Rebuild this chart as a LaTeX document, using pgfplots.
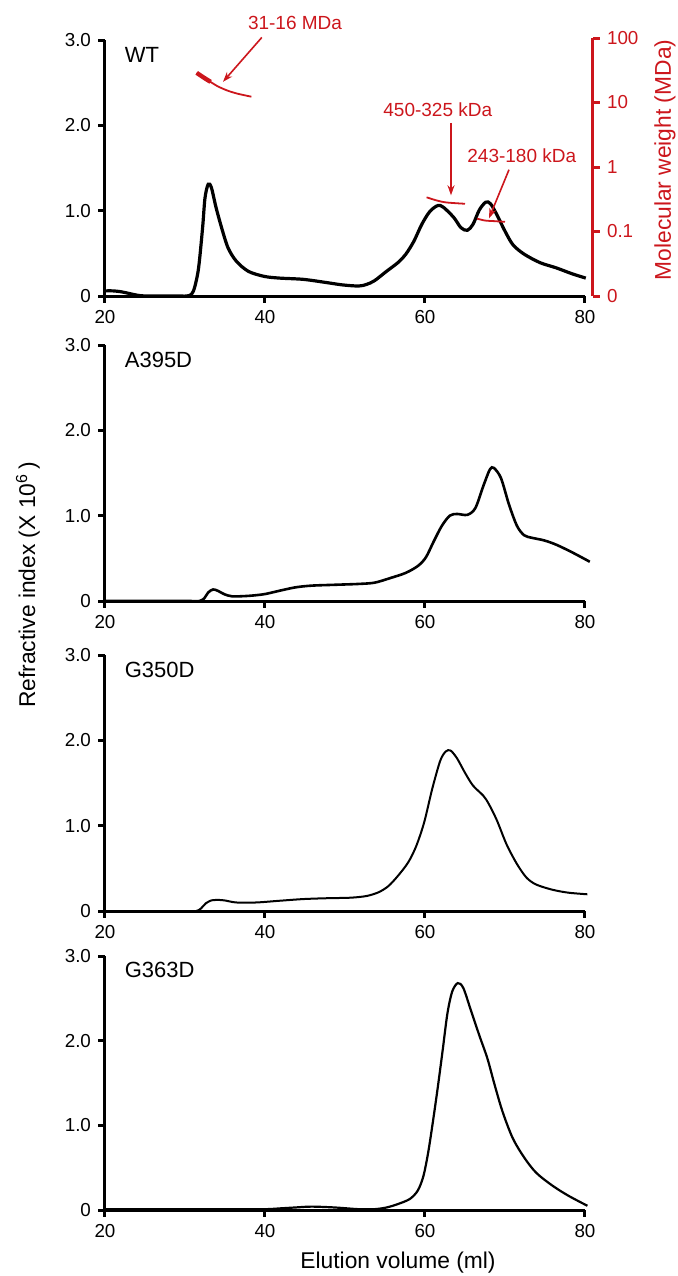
\documentclass[border=0pt]{standalone}
\usepackage{fontspec}
\setmainfont{Liberation Sans}
\usepackage{pgfplots}
\pgfplotsset{compat=1.18}
\usetikzlibrary{arrows.meta}
\definecolor{mwred}{RGB}{204,22,28}

\pgfplotsset{
  panel/.style={
    scale only axis, width=240pt, height=128pt,
    xmin=20, xmax=80, ymin=0, ymax=3,
    axis x line*=bottom, axis y line*=left,
    axis line style={draw=none},
    xtick={20,40,60,80}, ytick={0,1,2,3},
    yticklabels={0,1.0,2.0,3.0},
    tick align=outside, major tick length=3.5pt,
    every tick/.append style={draw=none},
    tick label style={font=\fontsize{9.4}{11}\selectfont},
    /pgf/number format/assume math mode=true,
    clip=false,
  },
  % axis frame drawn by hand: left and bottom lines with outward ticks
  frame/.code={
    \draw[axisline] (axis cs:20,0) -- (axis cs:80,0);
    \draw[axisline] (axis cs:20,0) -- (axis cs:20,3);
    \pgfplotsinvokeforeach{20,40,60,80}{\draw[axisline] (axis cs:##1,0) -- ++(0pt,-3.5pt);}
    \pgfplotsinvokeforeach{0,1,2,3}{\draw[axisline] (axis cs:20,##1) -- ++(-3.5pt,0pt);}
  },
}
\tikzset{
  axisline/.style={line width=1.5pt},
  curve/.style={black, line width=#1, smooth, tension=0.5},
  plabel/.style={anchor=west, font=\fontsize{11}{13}\selectfont},
  note/.style={mwred, font=\fontsize{9.5}{11}\selectfont},
  notearrow/.style={mwred, line width=0.8pt, -{Stealth[length=5pt,width=3.5pt]}},
}

\begin{document}
\begin{tikzpicture}
\useasboundingbox (-52.5pt,-490pt) rectangle (286pt,148pt);

% WT
\begin{axis}[panel, at={(0,0)}]
\addplot[curve=1.6pt, no markers] coordinates {
(20,0.06) (21,0.06) (22,0.05) (23,0.03) (24,0.01) (25,0) (27,0) (29,0) (30.2,0) (30.8,0.02)
(31.2,0.1) (31.7,0.33) (32.2,0.8) (32.5,1.15)
(32.9,1.31) (33.3,1.27) (33.9,1.03) (34.7,0.76) (35.4,0.56) (36.4,0.41) (37.9,0.29)
(39.9,0.23) (41.8,0.21) (44.8,0.195) (47.8,0.156) (49.7,0.13) (51.7,0.117) (52.7,0.136)
(53.7,0.18) (55.2,0.29) (56.6,0.39) (57.6,0.49) (58.6,0.64) (59.6,0.84) (60.6,0.99)
(61.6,1.06) (62.3,1.04) (63.6,0.92) (64.5,0.8) (65.3,0.77) (66.0,0.84) (66.8,1.01)
(67.6,1.1) (68.2,1.08) (69.0,0.95) (70.0,0.76) (71.0,0.6) (72.4,0.49) (74.4,0.39)
(76.4,0.33) (78.4,0.26) (80.1,0.21)};
\pgfplotsset{frame}
\node[plabel] at (axis cs:21.6,2.82) {WT};
\node[note] at (axis cs:43.75,3.2) {31-16 MDa};
\draw[notearrow] (axis cs:39.6,3.03) -- (axis cs:34.75,2.51);
\node[note] at (axis cs:61.6,2.18) {450-325 kDa};
\draw[notearrow] (axis cs:63.25,2.03) -- (axis cs:63.25,1.18);
\node[note] at (axis cs:72.1,1.64) {243-180 kDa};
\draw[notearrow] (axis cs:70.5,1.48) -- (axis cs:68,0.91);
\end{axis}

% molecular weight axis
\begin{axis}[
  scale only axis, width=244pt, height=129pt, at={(0,0)},
  xmin=20, xmax=81.0, ymin=0, ymax=4,
  axis x line=none, axis y line*=right,
  axis line style={draw=none},
  ytick={0,1,2,3,4}, yticklabels={0,0.1,1,10,100},
  tick align=outside, major tick length=3.5pt,
  every tick/.append style={draw=none},
  yticklabel style={mwred, font=\fontsize{9.4}{11}\selectfont},
  clip=false,
]
\addplot[mwred, line width=0.9pt, smooth, no markers] coordinates {
(31.46,3.46) (32.7,3.36) (33.96,3.26) (35.2,3.19) (36.46,3.14) (38.3,3.09)};
\addplot[mwred, line width=2.2pt, smooth, no markers] coordinates {
(31.46,3.46) (32.3,3.39) (33.2,3.32)};
\addplot[mwred, line width=0.9pt, smooth, no markers] coordinates {
(60.2,1.53) (61.5,1.48) (62.7,1.45) (65.0,1.43)};
\addplot[mwred, line width=0.9pt, smooth, no markers] coordinates {
(66.5,1.2) (67.5,1.17) (68.75,1.16) (70.0,1.15)};
\draw[axisline, mwred] (axis cs:81,0) -- (axis cs:81,4);
\pgfplotsinvokeforeach{0,1,2,3,4}{\draw[axisline, mwred] (axis cs:81,#1) -- ++(3.5pt,0pt);}
\end{axis}
\node[rotate=90, mwred, font=\fontsize{11.4}{13}\selectfont] at (280pt,68pt) {Molecular weight (MDa)};

% A395D
\begin{axis}[panel, at={(0,-152.5pt)}]
\addplot[curve=1.3pt, no markers] coordinates {
(20,0) (24,0) (28,0) (30.5,0) (31.8,0) (32.4,0.03) (32.9,0.1) (33.5,0.135) (34.1,0.12) (34.9,0.08)
(35.9,0.055) (37.9,0.06) (39.9,0.08)
(41.8,0.12) (43.8,0.16) (45.8,0.18) (48.7,0.19) (51.7,0.2) (53.7,0.215) (55.7,0.27)
(57.6,0.33) (59.1,0.41) (60.1,0.51) (61.1,0.7) (62.1,0.88) (63.1,1.0) (64.0,1.02)
(65.3,1.01) (66.3,1.09) (67.3,1.35) (68.1,1.54) (68.6,1.56) (69.5,1.44) (70.5,1.13)
(71.5,0.88) (72.4,0.77) (73.4,0.74) (74.9,0.71) (76.4,0.66) (78.4,0.57) (80.6,0.46)};
\pgfplotsset{frame}
\node[plabel] at (axis cs:21.6,2.82) {A395D};
\end{axis}

% G350D
\begin{axis}[panel, at={(0,-307.5pt)}]
\addplot[curve=1.0pt, no markers] coordinates {
(20,0) (24,0) (28,0) (30.2,0) (31.4,0) (32.0,0.03) (32.6,0.09) (33.3,0.125) (33.9,0.13)
(34.9,0.125) (36.4,0.1) (38.9,0.1) (41.8,0.12)
(44.8,0.14) (47.8,0.15) (50.7,0.156) (52.7,0.176) (54.2,0.22) (55.4,0.29) (56.6,0.41)
(57.9,0.57) (58.9,0.76) (59.9,1.04) (60.9,1.43) (61.9,1.76) (62.6,1.87) (63.2,1.88)
(64.0,1.79) (65.0,1.62) (66.0,1.47) (67.3,1.35) (68.0,1.25) (69.0,1.06) (70.2,0.78)
(71.5,0.55) (72.7,0.39) (73.9,0.31) (75.9,0.25) (77.9,0.215) (80.3,0.196)};
\pgfplotsset{frame}
\node[plabel] at (axis cs:21.6,2.82) {G350D};
\end{axis}
\node[rotate=90, font=\fontsize{11.4}{13}\selectfont] at (-38.5pt,-144.5pt) {Refractive index (X 10\textsuperscript{6}\,)};

% G363D
\begin{axis}[panel, at={(0,-457pt)}, height=127pt]
\addplot[curve=1.1pt, no markers] coordinates {
(20,0.01) (25,0.01) (30,0.01) (35,0.01) (40,0.01) (42,0.02) (43.8,0.03) (45.8,0.04)
(48.7,0.03) (51.7,0.01) (53.7,0.01)
(55.2,0.03) (56.6,0.07) (58.1,0.13) (59.1,0.23) (59.8,0.4) (60.4,0.68) (61.0,1.05)
(61.6,1.45) (62.2,1.88) (62.8,2.32) (63.4,2.58) (64.1,2.68) (64.8,2.62) (65.8,2.34)
(66.8,2.06) (67.8,1.79) (68.7,1.48) (69.7,1.16) (70.96,0.85) (72.4,0.62) (73.9,0.44)
(75.9,0.29) (77.9,0.17) (80.3,0.05)};
\pgfplotsset{frame}
\node[plabel] at (axis cs:21.6,2.84) {G363D};
\end{axis}
\node[font=\fontsize{11.4}{13}\selectfont] at (146.5pt,-483.5pt) {Elution volume (ml)};
\end{tikzpicture}
\end{document}
